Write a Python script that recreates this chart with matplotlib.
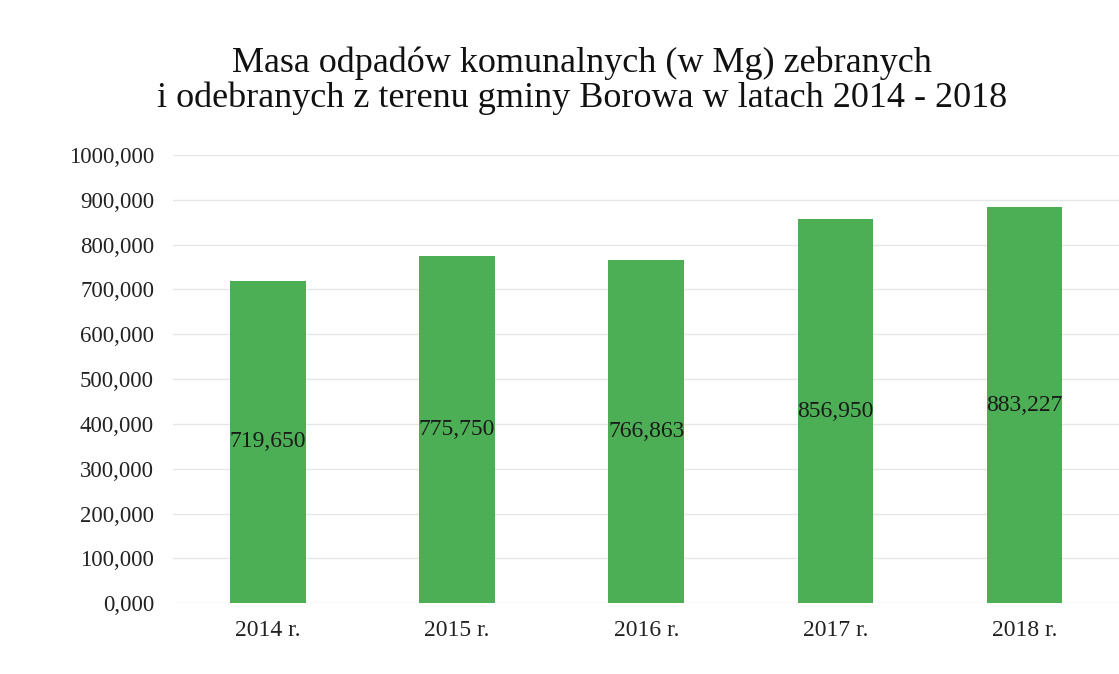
import matplotlib
matplotlib.use("Agg")
import matplotlib.pyplot as plt

categories = ["2014 r.", "2015 r.", "2016 r.", "2017 r.", "2018 r."]
values = [719.650, 775.750, 766.863, 856.950, 883.227]
yticks = [0, 100, 200, 300, 400, 500, 600, 700, 800, 900, 1000]

def fmt(v):
    return f"{v:.3f}".replace(".", ",")

plt.rcParams['font.family'] = ['Liberation Serif', 'DejaVu Serif']

fig = plt.figure(figsize=(11.19, 6.74), dpi=100)
ax = fig.add_axes([0.155, 0.105, 0.845, 0.665])

x = range(len(categories))
bars = ax.bar(x, values, width=0.4, color="#4DAF55", zorder=3)
for i, v in enumerate(values):
    ax.text(i, v / 2, fmt(v), ha="center", va="center", fontsize=17, color="#1a1a1a", zorder=4)

ax.set_xlim(-0.5, len(categories) - 0.5)
ax.set_ylim(0, 1000)
ax.set_yticks(yticks)
ax.set_yticklabels([fmt(t) for t in yticks], fontsize=16.5, color="#222222")
ax.set_xticks(list(x))
ax.set_xticklabels(categories, fontsize=17, color="#222222")
ax.tick_params(axis="y", length=0, pad=14)
ax.tick_params(axis="x", length=0, pad=12)
ax.grid(axis="y", color="#e6e6e6", linewidth=1, zorder=0)
for s in ax.spines.values():
    s.set_visible(False)

fig.text(0.52, 0.88, "Masa odpadów komunalnych (w Mg) zebranych\ni odebranych z terenu gminy Borowa w latach 2014 - 2018",
         ha="center", va="center", fontsize=26, color="#111111", linespacing=1.05)

fig.savefig("out.png", dpi=100)
